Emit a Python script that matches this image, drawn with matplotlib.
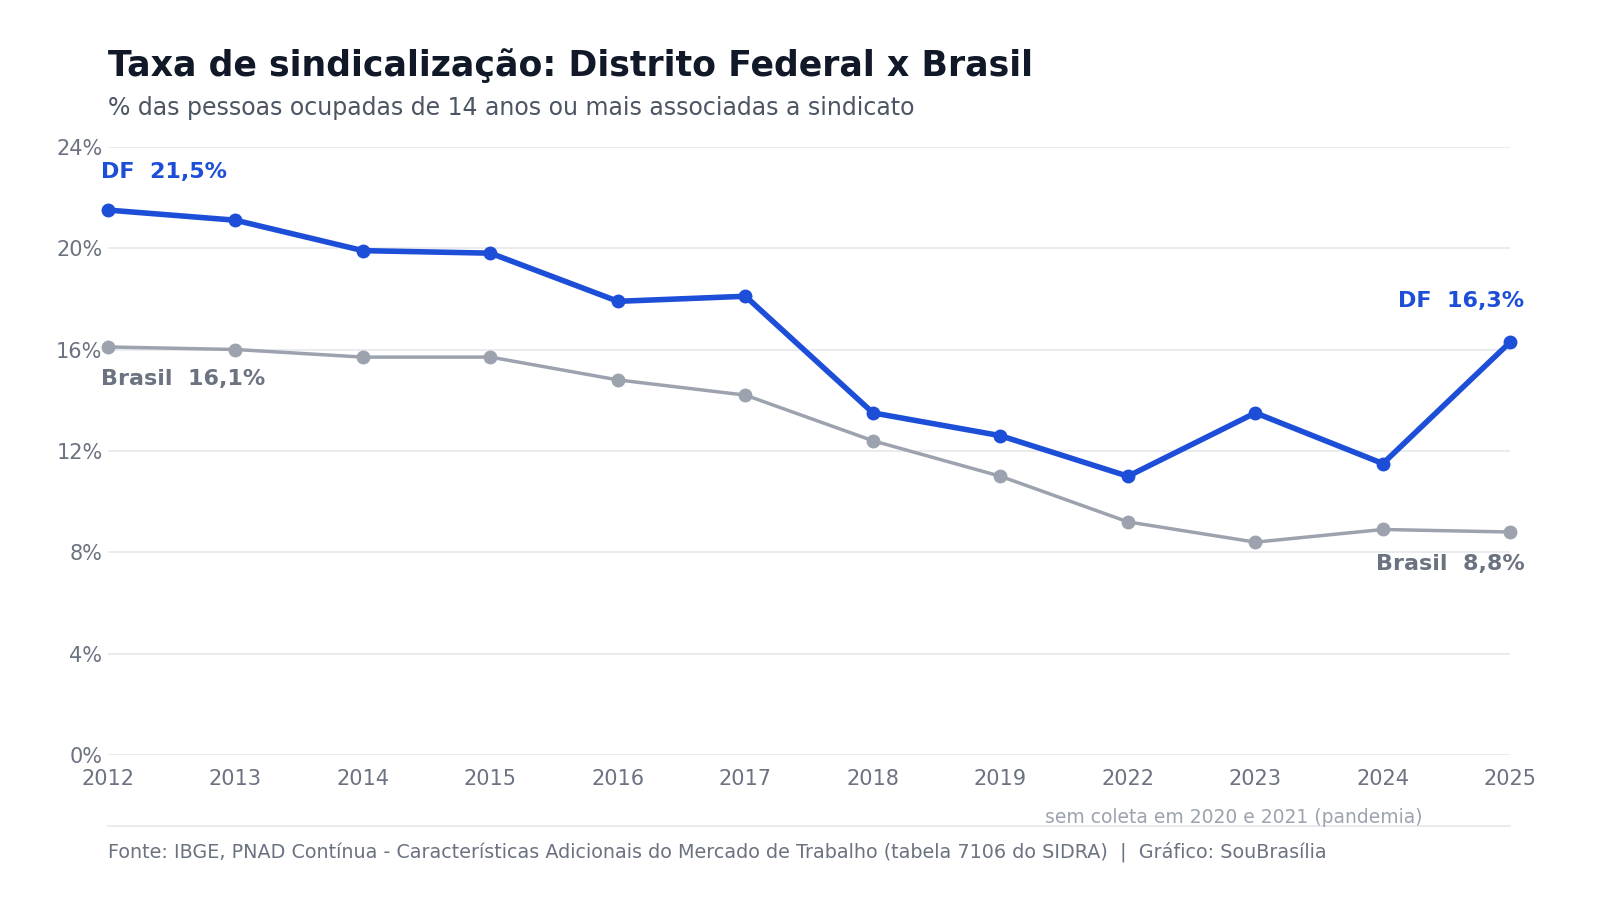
import matplotlib.pyplot as plt
from matplotlib.lines import Line2D

anos = ["2012", "2013", "2014", "2015", "2016", "2017", "2018", "2019", "2022", "2023", "2024", "2025"]
df_taxa = [21.5, 21.1, 19.9, 19.8, 17.9, 18.1, 13.5, 12.6, 11.0, 13.5, 11.5, 16.3]
br_taxa = [16.1, 16.0, 15.7, 15.7, 14.8, 14.2, 12.4, 11.0, 9.2, 8.4, 8.9, 8.8]
y_ticks = [0, 4, 8, 12, 16, 20, 24]

AZUL = "#1d4ed8"
CINZA = "#9ca3af"
TEXTO = "#6b7280"


def fmt(v):
    return f"{v:.1f}".replace(".", ",") + "%"


fig = plt.figure(figsize=(16, 9), dpi=100)
ax = fig.add_axes([0.0675, 0.161, 0.8765, 0.676])

x = list(range(len(anos)))
ax.plot(x, br_taxa, color=CINZA, lw=2.5, marker="o", ms=9, zorder=3, clip_on=False)
ax.plot(x, df_taxa, color=AZUL, lw=4, marker="o", ms=9, zorder=4, clip_on=False)

ax.set_xlim(0, len(anos) - 1)
ax.set_ylim(0, 24)
ax.set_yticks(y_ticks)
ax.set_yticklabels([f"{t}%" for t in y_ticks])
ax.set_xticks(x)
ax.set_xticklabels(anos)
ax.tick_params(length=0, labelsize=15, labelcolor=TEXTO, pad=10)
ax.tick_params(axis="y", pad=4)
for s in ax.spines.values():
    s.set_visible(False)
ax.grid(axis="y", color="#e5e7eb", lw=1.2)
ax.set_axisbelow(True)

# rotulos de ponta
ax.annotate(f"DF  {fmt(df_taxa[0])}", (x[0], df_taxa[0]), xytext=(-5, 20), textcoords="offset points",
            ha="left", va="bottom", color=AZUL, fontsize=16, fontweight="bold", annotation_clip=False)
ax.annotate(f"Brasil  {fmt(br_taxa[0])}", (x[0], br_taxa[0]), xytext=(-5, -16), textcoords="offset points",
            ha="left", va="top", color=TEXTO, fontsize=16, fontweight="bold", annotation_clip=False)
ax.annotate(f"DF  {fmt(df_taxa[-1])}", (x[-1], df_taxa[-1]), xytext=(10, 22), textcoords="offset points",
            ha="right", va="bottom", color=AZUL, fontsize=16, fontweight="bold", annotation_clip=False)
ax.annotate(f"Brasil  {fmt(br_taxa[-1])}", (x[-1], br_taxa[-1]), xytext=(10, -16), textcoords="offset points",
            ha="right", va="top", color=TEXTO, fontsize=16, fontweight="bold", annotation_clip=False)

fig.text(0.0675, 0.927, "Taxa de sindicalização: Distrito Federal x Brasil", fontsize=25,
         fontweight="bold", color="#111827", va="center")
fig.text(0.0675, 0.880, "% das pessoas ocupadas de 14 anos ou mais associadas a sindicato", fontsize=17,
         color="#4b5563", va="center")

fig.text(0.889, 0.092, "sem coleta em 2020 e 2021 (pandemia)", fontsize=13.5, color=CINZA,
         ha="right", va="center")
fig.add_artist(Line2D([0.0675, 0.944], [0.082, 0.082], color="#e5e7eb", lw=1.2))
fig.text(0.0675, 0.054, "Fonte: IBGE, PNAD Contínua - Características Adicionais do Mercado de Trabalho "
         "(tabela 7106 do SIDRA)  |  Gráfico: SouBrasília", fontsize=13.8, color=TEXTO, va="center")

fig.savefig("out.png", dpi=100, facecolor="white")
